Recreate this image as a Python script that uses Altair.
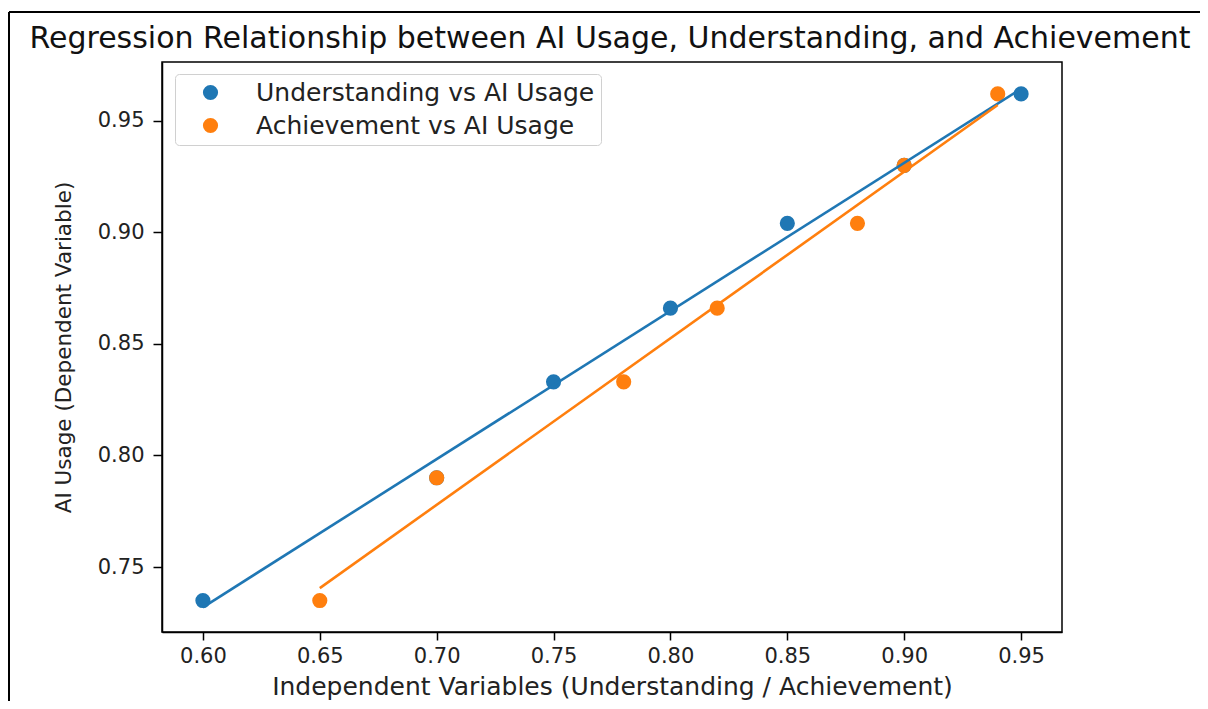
import altair as alt
import pandas as pd

# Data
ai_usage = [0.735, 0.790, 0.833, 0.866, 0.904, 0.930, 0.962]
understanding = [0.60, 0.70, 0.75, 0.80, 0.85, 0.90, 0.95]
achievement = [0.65, 0.70, 0.78, 0.82, 0.88, 0.90, 0.94]
series_names = ["Understanding vs AI Usage", "Achievement vs AI Usage"]
series_colors = ["#1f77b4", "#ff7f0e"]
title_text = "Regression Relationship between AI Usage, Understanding, and Achievement"
x_ticks = [0.60, 0.65, 0.70, 0.75, 0.80, 0.85, 0.90, 0.95]
y_ticks = [0.75, 0.80, 0.85, 0.90, 0.95]

rows = []
for xv, yv in zip(understanding, ai_usage):
    rows.append({"series": series_names[0], "x": xv, "y": yv, "order": 0})
for xv, yv in zip(achievement, ai_usage):
    rows.append({"series": series_names[1], "x": xv, "y": yv, "order": 1})
df = pd.DataFrame(rows)

FONT = "DejaVu Sans"
W, H = 900, 570

xscale = alt.Scale(domain=[0.5825, 0.9675], nice=False, zero=False)
yscale = alt.Scale(domain=[0.7209, 0.9763], nice=False, zero=False)
cscale = alt.Scale(domain=series_names, range=series_colors)

xaxis = alt.Axis(values=x_ticks, format=".2f",
                 title="Independent Variables (Understanding / Achievement)",
                 grid=False, tickSize=8, labelPadding=5, titlePadding=8, titleFontSize=25)
yaxis = alt.Axis(values=y_ticks, format=".2f",
                 title="AI Usage (Dependent Variable)",
                 grid=False, tickSize=9, labelPadding=9, titlePadding=22, titleFontSize=21.5)

base = alt.Chart(df)

points = base.mark_circle(size=230, opacity=1).encode(
    x=alt.X("x:Q", scale=xscale, axis=xaxis),
    y=alt.Y("y:Q", scale=yscale, axis=yaxis),
    color=alt.Color("series:N", scale=cscale, sort=series_names,
                    legend=alt.Legend(title=None, orient="none", legendX=13, legendY=12,
                                      padding=6, symbolOffset=17, labelOffset=33,
                                      rowPadding=7, symbolType="circle", symbolSize=230,
                                      symbolStrokeWidth=0, labelFontSize=25, labelFont=FONT,
                                      labelColor="#222222", labelLimit=600,
                                      strokeColor="#d0d0d0", fillColor="white",
                                      cornerRadius=4)),
    order=alt.Order("order:Q"),
)

lines = base.transform_regression("x", "y", groupby=["series"]).mark_line(strokeWidth=2.6).encode(
    x=alt.X("x:Q", scale=xscale),
    y=alt.Y("y:Q", scale=yscale),
    color=alt.Color("series:N", scale=cscale, legend=None),
)

one = pd.DataFrame({"t": [title_text]})
title = alt.Chart(one).mark_text(font=FONT, fontSize=30, color="#111111", align="center",
                                 baseline="alphabetic").encode(
    text="t:N", x=alt.value(W / 2 - 2), y=alt.value(-14))

# outer frame of the figure (decoration)
frame_top = alt.Chart(one).mark_rule(color="black", strokeWidth=2).encode(
    x=alt.value(-153), x2=alt.value(W + 150), y=alt.value(-50))
frame_left = alt.Chart(one).mark_rule(color="black", strokeWidth=2).encode(
    x=alt.value(-153), y=alt.value(-50), y2=alt.value(H + 80))

chart = alt.layer(points, lines, title, frame_top, frame_left).resolve_legend(
    color="independent"
).properties(
    width=W, height=H,
    autosize=alt.AutoSizeParams(type="none"),
    padding={"left": 154, "top": 54, "right": 138, "bottom": 69},
).configure_view(
    stroke="black", strokeWidth=1.5
).configure_axis(
    domainColor="black", tickColor="black", labelColor="#222222", titleColor="#222222",
    labelFont=FONT, titleFont=FONT, labelFontSize=21,
    titleFontWeight="normal", domainWidth=1.5, tickWidth=1.5,
)

chart.save("out.html", embed_options={"renderer": "svg", "actions": False})
